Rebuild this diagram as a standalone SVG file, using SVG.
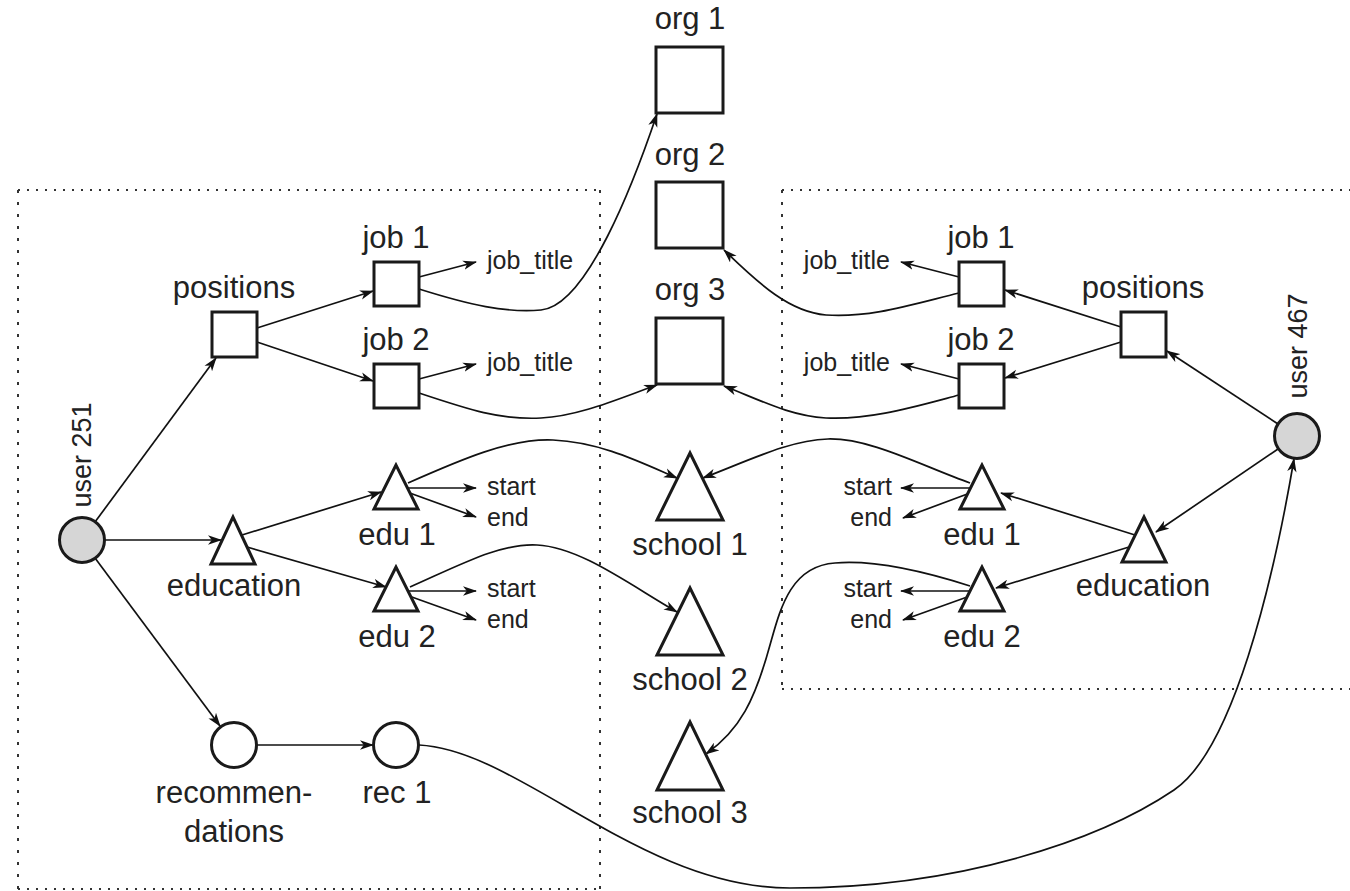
<svg xmlns="http://www.w3.org/2000/svg" width="1350" height="891" viewBox="0 0 1350 891">
<style>
.bg{fill:#fff}
.nd{fill:#fff;stroke:#1a1a1a;stroke-width:3}
.usr{fill:#d6d6d6;stroke:#1a1a1a;stroke-width:3}
.lbl{font-family:"Liberation Sans",Arial,sans-serif;font-size:31px;fill:#222;text-anchor:middle}
.rot{font-family:"Liberation Sans",Arial,sans-serif;font-size:27px;fill:#222;text-anchor:middle}
.sm{font-family:"Liberation Sans",Arial,sans-serif;font-size:25px;fill:#222}
.ed{fill:none;stroke:#111;stroke-width:1.7;marker-end:url(#ah)}
.dh{fill:none;stroke:#333;stroke-width:2;stroke-dasharray:2 7}
.dv{fill:none;stroke:#333;stroke-width:2;stroke-dasharray:3 9}
</style>
<defs>
<marker id="ah" viewBox="0 0 14 10" refX="13" refY="5" markerWidth="14" markerHeight="10" markerUnits="userSpaceOnUse" orient="auto">
<path d="M0,0.3 L14,5 L0,9.7 L3.8,5 z" fill="#111"/>
</marker>
</defs>
<rect class="bg" x="0" y="0" width="1350" height="891"/>
<g id="boxes">
<path class="dh" d="M18,190 H600 M18,889 H600"/>
<path class="dv" d="M18,190 V889 M600,190 V889"/>
<path class="dh" d="M782,190 H1350 M782,689 H1350"/>
<path class="dv" d="M782,190 V689"/>
</g>
<g id="connectors">
<path class="ed" d="M95,522 L216,358"/>
<path class="ed" d="M105,540 L221,540"/>
<path class="ed" d="M95,558 L220,726"/>
<path class="ed" d="M257,745 L373,745"/>
<path class="ed" d="M257,328 L373,291"/>
<path class="ed" d="M257,342 L373,381"/>
<path class="ed" d="M419,277 L476,262"/>
<path class="ed" d="M419,379 L476,364"/>
<path class="ed" d="M242,535 L381,492"/>
<path class="ed" d="M247,547 L386,587"/>
<path class="ed" d="M408,488 L476,488"/>
<path class="ed" d="M407,492 L476,517"/>
<path class="ed" d="M409,591 L476,591"/>
<path class="ed" d="M409,596 L476,620"/>
<path class="ed" d="M1278,424 L1167,351"/>
<path class="ed" d="M1278,449 L1156,532"/>
<path class="ed" d="M1121,327 L1005,290"/>
<path class="ed" d="M1121,342 L1005,378"/>
<path class="ed" d="M959,277 L901,262"/>
<path class="ed" d="M959,379 L901,364"/>
<path class="ed" d="M1135,535 L1001,493"/>
<path class="ed" d="M1129,547 L996,588"/>
<path class="ed" d="M971,488 L901,488"/>
<path class="ed" d="M970,493 L903,518"/>
<path class="ed" d="M970,591 L901,591"/>
<path class="ed" d="M970,596 L903,620"/>
<path class="ed" d="M419,289 C470,305 505,313 541,310 C587,306 634,182 657,114"/>
<path class="ed" d="M419,393 C470,410 500,420 541,418 C580,416 620,398 657,385"/>
<path class="ed" d="M959,293 C910,305 870,318 826,315 C790,312 760,285 724,250"/>
<path class="ed" d="M959,395 C910,408 870,420 826,418 C790,416 760,400 724,386"/>
<path class="ed" d="M408,483 C460,460 510,438 553,440 C600,442 640,462 677,478"/>
<path class="ed" d="M970,483 C920,465 870,438 828,439 C790,440 750,460 703,478"/>
<path class="ed" d="M410,587 C460,565 500,543 537,545 C580,547 630,585 677,612"/>
<path class="ed" d="M970,586 C920,570 870,560 835,563 C790,566 780,610 770,645 C755,700 740,730 706,754"/>
<path class="ed" d="M419,745 C520,750 640,888 790,888 C960,888 1100,840 1174,790 C1233,750 1273,583 1294,459"/>
</g>
<g id="user251">
<circle class="usr" cx="82" cy="540" r="22.5"/>
<text class="rot" transform="translate(91,455) rotate(-90)">user 251</text>
</g>
<g id="positions-left">
<rect class="nd" x="212" y="312" width="45" height="45"/>
<text class="lbl" x="234" y="298">positions</text>
</g>
<g id="job1-left">
<rect class="nd" x="374" y="262" width="45" height="44"/>
<text class="lbl" x="396" y="248">job 1</text>
<text class="sm" x="487" y="269">job_title</text>
</g>
<g id="job2-left">
<rect class="nd" x="374" y="364" width="45" height="44"/>
<text class="lbl" x="396" y="350">job 2</text>
<text class="sm" x="487" y="371">job_title</text>
</g>
<g id="education-left">
<polygon class="nd" points="233,517 211,564 255,564"/>
<text class="lbl" x="234" y="596">education</text>
</g>
<g id="edu1-left">
<polygon class="nd" points="396,465 374,509 418,509"/>
<text class="lbl" x="397" y="545">edu 1</text>
<text class="sm" x="487" y="495">start</text>
<text class="sm" x="487" y="526">end</text>
</g>
<g id="edu2-left">
<polygon class="nd" points="396,567 374,611 418,611"/>
<text class="lbl" x="397" y="647">edu 2</text>
<text class="sm" x="487" y="597">start</text>
<text class="sm" x="487" y="628">end</text>
</g>
<g id="recommendations">
<circle class="nd" cx="234" cy="745" r="22.5"/>
<text class="lbl" x="234" y="803">recommen-</text>
<text class="lbl" x="234" y="842">dations</text>
</g>
<g id="rec1">
<circle class="nd" cx="396" cy="745" r="22.5"/>
<text class="lbl" x="397" y="803">rec 1</text>
</g>
<g id="org1">
<rect class="nd" x="656" y="47" width="67" height="66"/>
<text class="lbl" x="690" y="29">org 1</text>
</g>
<g id="org2">
<rect class="nd" x="656" y="182" width="67" height="66"/>
<text class="lbl" x="690" y="165">org 2</text>
</g>
<g id="org3">
<rect class="nd" x="656" y="318" width="67" height="66"/>
<text class="lbl" x="690" y="300">org 3</text>
</g>
<g id="school1">
<polygon class="nd" points="690,453 657,520 723,520"/>
<text class="lbl" x="690" y="555">school 1</text>
</g>
<g id="school2">
<polygon class="nd" points="690,588 657,655 723,655"/>
<text class="lbl" x="690" y="690">school 2</text>
</g>
<g id="school3">
<polygon class="nd" points="690,722 657,790 723,790"/>
<text class="lbl" x="690" y="823">school 3</text>
</g>
<g id="user467">
<circle class="usr" cx="1297" cy="436" r="22.5"/>
<text class="rot" transform="translate(1307,346) rotate(-90)">user 467</text>
</g>
<g id="positions-right">
<rect class="nd" x="1121" y="312" width="45" height="45"/>
<text class="lbl" x="1143" y="298">positions</text>
</g>
<g id="job1-right">
<rect class="nd" x="959" y="262" width="45" height="44"/>
<text class="lbl" x="981" y="248">job 1</text>
<text class="sm" x="890" y="269" text-anchor="end">job_title</text>
</g>
<g id="job2-right">
<rect class="nd" x="959" y="364" width="45" height="44"/>
<text class="lbl" x="981" y="350">job 2</text>
<text class="sm" x="890" y="371" text-anchor="end">job_title</text>
</g>
<g id="education-right">
<polygon class="nd" points="1144,517 1122,562 1166,562"/>
<text class="lbl" x="1143" y="596">education</text>
</g>
<g id="edu1-right">
<polygon class="nd" points="982,465 960,509 1004,509"/>
<text class="lbl" x="982" y="545">edu 1</text>
<text class="sm" x="892" y="495" text-anchor="end">start</text>
<text class="sm" x="892" y="526" text-anchor="end">end</text>
</g>
<g id="edu2-right">
<polygon class="nd" points="982,567 960,611 1004,611"/>
<text class="lbl" x="982" y="647">edu 2</text>
<text class="sm" x="892" y="597" text-anchor="end">start</text>
<text class="sm" x="892" y="628" text-anchor="end">end</text>
</g>
</svg>
